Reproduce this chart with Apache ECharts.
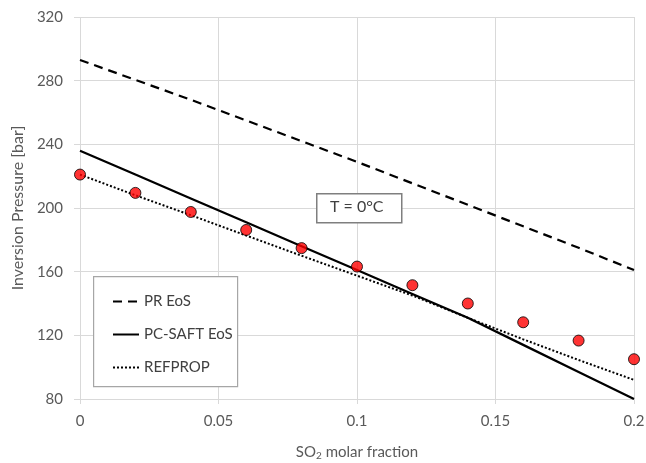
<!DOCTYPE html>
<html>
<head>
<meta charset="utf-8">
<script src="https://cdn.jsdelivr.net/npm/echarts@6/dist/echarts.min.js"></script>
<style>
  html, body { margin: 0; padding: 0; background: #fff; }
  #chart { width: 646px; height: 463px; }
</style>
</head>
<body>
<div id="chart"></div>
<script>
// SO2 molar fraction
var fractions = [0, 0.02, 0.04, 0.06, 0.08, 0.1, 0.12, 0.14, 0.16, 0.18, 0.2];

// inversion pressure [bar]
var prEos = [293, 280.5, 268, 255, 242, 229, 215.5, 202, 188.5, 175, 161];
var pcSaftEos = [236, 221, 206, 191, 176, 161, 146, 131, 114, 97, 80];
var refprop = [221, 208, 195.5, 182.7, 170, 157.5, 145, 131, 117.5, 104.5, 92];
var measured = [221, 209.5, 197.5, 186.2, 174.8, 163.2, 151.5, 140, 128.2, 116.7, 105];

var xTicks = [0, 0.05, 0.1, 0.15, 0.2];
var yTicks = [80, 120, 160, 200, 240, 280, 320];

function pairs(ys) {
    return fractions.map(function (x, i) { return [x, ys[i]]; });
}

var font = 'Lato, "Open Sans", sans-serif';
var textGrey = '#595959';
var gridGrey = '#d9d9d9';

var chart = echarts.init(document.getElementById('chart'));

var option = {
    animation: false,
    backgroundColor: '#fff',
    grid: {
        left: 80,
        right: 12,
        top: 17,
        bottom: 64,
        outerBoundsMode: 'none'
    },
    xAxis: {
        type: 'value',
        min: xTicks[0],
        max: xTicks[xTicks.length - 1],
        interval: 0.05,
        name: '{a|SO}{sub|2}{a| molar fraction}',
        nameLocation: 'middle',
        nameGap: 44,
        nameTextStyle: {
            rich: {
                a: { fontFamily: font, fontSize: 15, color: textGrey },
                sub: { fontFamily: font, fontSize: 10, color: textGrey, verticalAlign: 'bottom', padding: [8, 0, 0, 0] }
            }
        },
        axisLine: { show: false },
        axisTick: { show: true, length: 5, lineStyle: { color: gridGrey } },
        axisLabel: { fontFamily: font, fontSize: 15, color: textGrey, margin: 15 },
        splitLine: { show: true, lineStyle: { color: gridGrey, width: 1 } }
    },
    yAxis: {
        type: 'value',
        min: yTicks[0],
        max: yTicks[yTicks.length - 1],
        interval: 40,
        name: 'Inversion Pressure [bar]',
        nameLocation: 'middle',
        nameGap: 51,
        nameTextStyle: { fontFamily: font, fontSize: 16, color: textGrey },
        axisLine: { show: false },
        axisTick: { show: true, length: 6, lineStyle: { color: gridGrey } },
        axisLabel: { fontFamily: font, fontSize: 15, color: textGrey, margin: 17 },
        splitLine: { show: true, lineStyle: { color: gridGrey, width: 1 } }
    },
    legend: {
        orient: 'vertical',
        left: 107,
        top: 289,
        itemWidth: 26,
        itemHeight: 14,
        itemGap: 18,
        z: 20,
        itemStyle: { color: 'rgba(0,0,0,0)', borderWidth: 0 },
        data: ['PR EoS', 'PC-SAFT EoS', 'REFPROP'],
        textStyle: { fontFamily: font, fontSize: 15, color: '#404040' }
    },
    graphic: [
        {
            type: 'rect',
            left: 93,
            top: 276,
            shape: { width: 144, height: 110 },
            style: { fill: '#fff', stroke: '#a6a6a6', lineWidth: 1.2 },
            z: 2
        },
        {
            type: 'rect',
            left: 316,
            top: 193,
            shape: { width: 85, height: 29 },
            style: { fill: '#fff', stroke: '#7f7f7f', lineWidth: 1.5 },
            z: 50
        },
        {
            type: 'text',
            left: 330,
            top: 199,
            style: { text: 'T = 0°C', fontFamily: font, fontSize: 16, fill: '#404040' },
            z: 51
        }
    ],
    series: [
        {
            name: 'PR EoS',
            type: 'line',
            data: pairs(prEos),
            symbol: 'none',
            lineStyle: { color: '#000', width: 2.25, type: [9, 6] },
            itemStyle: { color: '#000' },
            z: 3
        },
        {
            name: 'PC-SAFT EoS',
            type: 'line',
            data: pairs(pcSaftEos),
            symbol: 'none',
            lineStyle: { color: '#000', width: 2.25, type: 'solid' },
            itemStyle: { color: '#000' },
            z: 3
        },
        {
            name: 'REFPROP',
            type: 'line',
            data: pairs(refprop),
            symbol: 'none',
            lineStyle: { color: '#000', width: 2, type: [2, 2] },
            itemStyle: { color: '#000' },
            z: 3
        },
        {
            name: 'Measured',
            type: 'scatter',
            data: pairs(measured),
            symbol: 'circle',
            symbolSize: 11,
            itemStyle: { color: '#ff0000', borderColor: '#000', borderWidth: 1 },
            z: 4
        }
    ]
};
chart.setOption(option);

window.addEventListener('resize', function () {
    chart.resize();
});
</script>
</body>
</html>
